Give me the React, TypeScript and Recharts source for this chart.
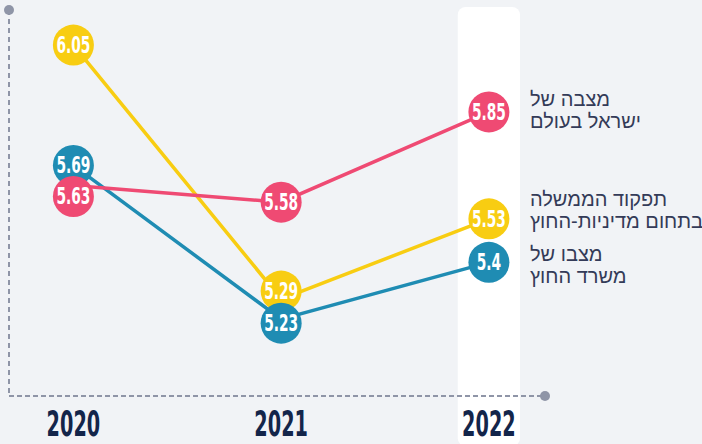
import React from 'react';
import { LineChart, Line, XAxis, YAxis, ReferenceArea, ReferenceDot } from 'recharts';

const years = [2020, 2021, 2022];
const israelStatus = [5.63, 5.58, 5.85];
const govFunction = [6.05, 5.29, 5.53];
const ministryStatus = [5.69, 5.23, 5.4];

const data = years.map((year, i) => ({
  year,
  israel: israelStatus[i],
  gov: govFunction[i],
  ministry: ministryStatus[i],
}));

const PINK = '#ef4a73';
const YELLOW = '#f8cd12';
const BLUE = '#1f8cb3';
const AXIS = '#8f95a7';
const NAVY = '#13254a';
const BG = '#f1f3f6';

const X_DOMAIN: [number, number] = [2019.69, 2022.27];
const Y_DOMAIN: [number, number] = [5.0, 6.155];

// circles that sit too close to each other are pushed apart (pixels), like in the original
const dotNudge: Record<string, number[]> = {
  israel: [11, 0, 0],
  gov: [0, -8, 0],
  ministry: [0, 4, 0],
};

const labelFont = '"DejaVu Sans", sans-serif';

const makeDot = (key: string, color: string) => (props: any) => {
  const { cx, cy, value, index } = props;
  if (cx == null || cy == null) return null;
  const y = cy + (dotNudge[key]?.[index] ?? 0);
  return (
    <g key={`dot-${key}-${index}`}>
      <circle cx={cx} cy={y} r={20.5} fill={color} />
      <g transform={`translate(${cx},${y + 8})`}>
        <text
          transform="scale(0.6,1)"
          textAnchor="middle"
          fill="#fff"
          fontFamily={labelFont}
          fontWeight={700}
          fontSize={23}
        >
          {value}
        </text>
      </g>
    </g>
  );
};

const YearTick = (props: any) => {
  const { x, y, payload } = props;
  return (
    <g transform={`translate(${x},${y + 32})`}>
      <text
        transform="scale(0.55,1)"
        textAnchor="middle"
        fill={NAVY}
        fontFamily={labelFont}
        fontWeight={700}
        fontSize={35}
      >
        {payload.value}
      </text>
    </g>
  );
};

const legendItems = [
  { lines: ['מצבה של', 'ישראל בעולם'], top: 88 },
  { lines: ['תפקוד הממשלה', 'בתחום מדיניות-החוץ'], top: 188 },
  { lines: ['מצבו של', 'משרד החוץ'], top: 243 },
];

export default function App() {
  return (
    <div
      style={{
        position: 'absolute',
        left: 0,
        top: 0,
        width: 702,
        height: 444,
        background: BG,
        overflow: 'hidden',
      }}
    >
      <LineChart width={702} height={444} data={data} margin={{ top: 10, right: 157, bottom: 8, left: 8 }}>
        <ReferenceArea
          x1={2021.85}
          x2={2022.15}
          y1={4.85}
          y2={6.164}
          ifOverflow="visible"
          fill="#ffffff"
          fillOpacity={1}
          stroke="none"
          radius={8}
        />
        <XAxis
          dataKey="year"
          type="number"
          domain={X_DOMAIN}
          ticks={years}
          allowDataOverflow
          height={40}
          tickLine={false}
          axisLine={{ stroke: AXIS, strokeWidth: 2, strokeDasharray: '5 3' }}
          tick={<YearTick />}
          interval={0}
        />
        <YAxis
          type="number"
          domain={Y_DOMAIN}
          allowDataOverflow
          width={1}
          tick={false}
          tickLine={false}
          axisLine={{ stroke: AXIS, strokeWidth: 2, strokeDasharray: '5 4' }}
        />
        <ReferenceDot x={X_DOMAIN[0]} y={Y_DOMAIN[1]} r={5} fill={AXIS} stroke="none" ifOverflow="visible" />
        <ReferenceDot x={X_DOMAIN[1]} y={Y_DOMAIN[0]} r={5} fill={AXIS} stroke="none" ifOverflow="visible" />
        <Line
          dataKey="gov"
          stroke={YELLOW}
          strokeWidth={3.5}
          dot={makeDot('gov', YELLOW)}
          activeDot={false}
          isAnimationActive={false}
        />
        <Line
          dataKey="ministry"
          stroke={BLUE}
          strokeWidth={3.5}
          dot={makeDot('ministry', BLUE)}
          activeDot={false}
          isAnimationActive={false}
        />
        <Line
          dataKey="israel"
          stroke={PINK}
          strokeWidth={3.5}
          dot={makeDot('israel', PINK)}
          activeDot={false}
          isAnimationActive={false}
        />
      </LineChart>
      {legendItems.map((item, i) => (
        <div
          key={i}
          style={{
            position: 'absolute',
            left: 530,
            top: item.top,
            fontFamily: '"Liberation Sans", "DejaVu Sans", sans-serif',
            fontSize: 20,
            lineHeight: '22px',
            color: '#343b58',
            whiteSpace: 'nowrap',
          }}
        >
          {item.lines.map((l, j) => (
            <div key={j} dir="rtl" style={{ textAlign: 'left', direction: 'rtl', width: 'max-content' }}>
              {l}
            </div>
          ))}
        </div>
      ))}
    </div>
  );
}
